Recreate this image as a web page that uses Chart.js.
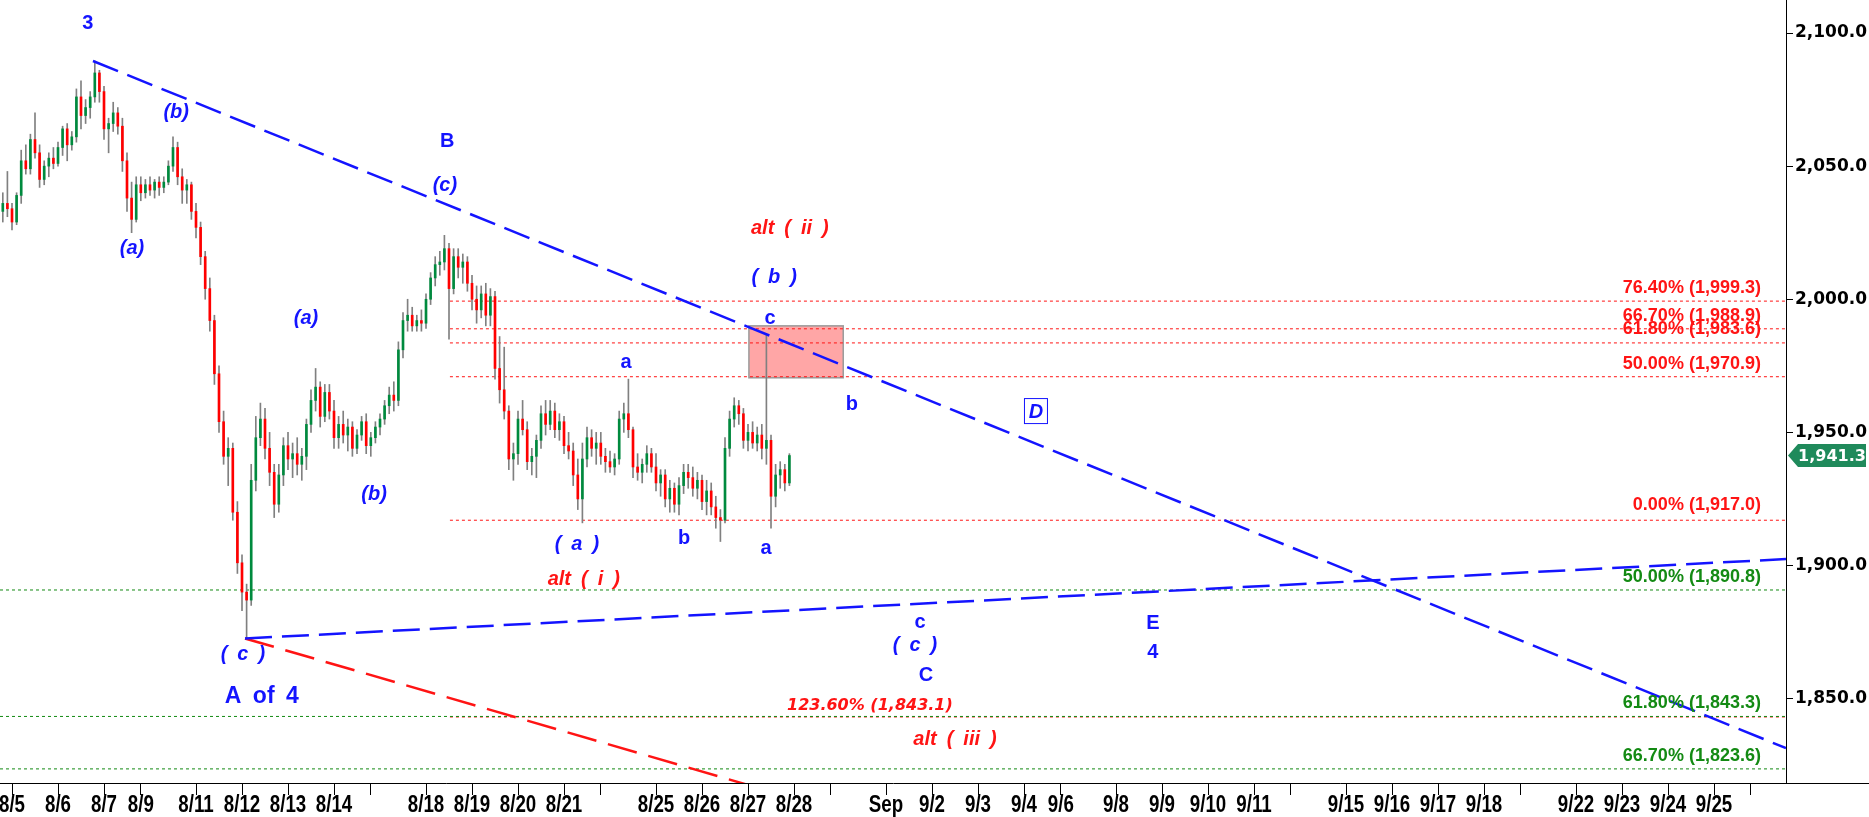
<!DOCTYPE html>
<html>
<head>
<meta charset="utf-8">
<script src="https://cdn.jsdelivr.net/npm/chart.js@4.4.1/dist/chart.umd.min.js"></script>
<style>
  html, body { margin: 0; padding: 0; background: #fff; }
  canvas { display: block; }
</style>
</head>
<body>
<canvas id="waveChart" width="1869" height="817"></canvas>
<script>
// bar slots: 10 slots per trading day, slot 0 = start of the 8/5 session
var firstSlot = -2;

var opens = [
    2033, 2036, 2034, 2029, 2039, 2052, 2049, 2060, 2055, 2045, 2050, 2053, 2051, 2057, 2064, 2058,
    2061, 2076, 2069, 2072, 2076, 2085, 2078, 2064, 2066, 2070, 2065, 2052, 2038, 2030, 2043, 2040,
    2043, 2041, 2044, 2042, 2044, 2050, 2057, 2046, 2041, 2043, 2033, 2027, 2016, 2004, 1992, 1972,
    1954, 1941, 1944, 1920, 1901, 1890, 1887, 1932, 1948, 1955, 1944, 1935, 1923, 1934, 1945, 1940,
    1942, 1938, 1941, 1953, 1962, 1967, 1956, 1965, 1958, 1948, 1953, 1949, 1952, 1944, 1949, 1954,
    1945, 1948, 1952, 1955, 1960, 1964, 1962, 1981, 1992, 1994, 1990, 1992, 1991, 2000, 2008, 2013,
    2014, 2019, 2004, 2016, 2012, 2014, 2006, 2000, 1996, 2002, 1994, 2001, 1974, 1966, 1958, 1940,
    1942, 1955, 1951, 1939, 1941, 1947, 1957, 1953, 1958, 1951, 1954, 1945, 1943, 1934, 1925, 1940,
    1948, 1944, 1946, 1941, 1939, 1937, 1940, 1955, 1957, 1951, 1937, 1935, 1938, 1942, 1937, 1931,
    1934, 1925, 1929, 1923, 1930, 1935, 1933, 1929, 1932, 1924, 1928, 1922, 1918, 1917, 1944, 1955,
    1960, 1957, 1947, 1950, 1946, 1949, 1944, 1947, 1926, 1934, 1936, 1931
];
var highs = [
    2040, 2048, 2036, 2040, 2056, 2058, 2062, 2070, 2058, 2052, 2055, 2057, 2059, 2065, 2066, 2063,
    2079, 2082, 2075, 2078, 2089.5, 2086, 2080, 2068, 2074, 2072, 2068, 2055, 2044, 2046, 2046, 2045,
    2046, 2045, 2046, 2046, 2052, 2061, 2059, 2049, 2045, 2044, 2036, 2029, 2018, 2008, 1994, 1975,
    1958, 1948, 1946, 1924, 1904, 1893, 1938, 1956, 1961, 1959, 1950, 1938, 1938, 1948, 1950, 1946,
    1948, 1944, 1955, 1966, 1974, 1969, 1968, 1968, 1962, 1956, 1958, 1955, 1954, 1951, 1956, 1957,
    1950, 1954, 1957, 1962, 1967, 1969, 1984, 1995, 2000, 1997, 1994, 1996, 2002, 2010, 2016, 2018,
    2024, 2021, 2019, 2019, 2017, 2016, 2009, 2005, 2005, 2006, 2004, 2003, 1986, 1982, 1960, 1946,
    1958, 1962, 1954, 1944, 1949, 1960, 1962, 1962, 1961, 1957, 1956, 1950, 1946, 1940, 1946, 1952,
    1951, 1950, 1950, 1944, 1943, 1942, 1958, 1961, 1970, 1952, 1942, 1940, 1945, 1944, 1942, 1936,
    1936, 1932, 1931, 1933, 1938, 1938, 1937, 1935, 1934, 1932, 1931, 1926, 1921, 1948, 1958, 1963,
    1962, 1959, 1953, 1954, 1952, 1953, 1986.5, 1949, 1938, 1939, 1938, 1942
];
var lows = [
    2029, 2031, 2026, 2028, 2036, 2047, 2047, 2053, 2042, 2043, 2046, 2049, 2050, 2054, 2052, 2056,
    2059, 2064, 2066, 2068, 2074, 2074, 2060, 2055, 2063, 2062, 2048, 2033, 2025, 2029, 2037, 2038,
    2039, 2038, 2039, 2040, 2043, 2048, 2043, 2036, 2036, 2030, 2023, 2013, 2000, 1988, 1968, 1950,
    1938, 1930, 1917, 1897, 1883, 1872.6, 1885, 1928, 1945, 1940, 1930, 1918, 1920, 1930, 1936, 1933,
    1934, 1932, 1936, 1950, 1958, 1952, 1954, 1955, 1944, 1944, 1946, 1943, 1941, 1942, 1947, 1942,
    1941, 1946, 1949, 1953, 1957, 1958, 1960, 1978, 1988, 1988, 1988, 1988, 1989, 1998, 2005, 2009,
    2011, 1985, 2002, 2008, 2006, 2003, 1996, 1991, 1993, 1990, 1990, 1970, 1961, 1955, 1936, 1932,
    1938, 1949, 1936, 1934, 1933, 1944, 1949, 1951, 1948, 1947, 1942, 1940, 1930, 1921, 1916, 1937,
    1941, 1938, 1938, 1935, 1935, 1934, 1938, 1950, 1948, 1933, 1932, 1931, 1935, 1935, 1928, 1926,
    1922, 1920, 1920, 1919, 1927, 1929, 1926, 1925, 1921, 1919, 1919, 1914, 1909, 1916, 1941, 1952,
    1953, 1944, 1943, 1944, 1943, 1940, 1938, 1914, 1922, 1929, 1928, 1930
];
var closes = [
    2036, 2034, 2029, 2039, 2052, 2049, 2060, 2055, 2045, 2050, 2053, 2051, 2057, 2064, 2058, 2061,
    2076, 2069, 2072, 2076, 2085, 2078, 2064, 2066, 2070, 2065, 2052, 2038, 2030, 2043, 2040, 2043,
    2041, 2044, 2042, 2044, 2050, 2057, 2046, 2041, 2043, 2033, 2027, 2016, 2004, 1992, 1972, 1954,
    1941, 1944, 1920, 1901, 1890, 1887, 1932, 1948, 1955, 1944, 1935, 1923, 1934, 1945, 1940, 1942,
    1938, 1941, 1953, 1962, 1967, 1956, 1965, 1958, 1948, 1953, 1949, 1952, 1944, 1949, 1954, 1945,
    1948, 1952, 1955, 1960, 1964, 1962, 1981, 1992, 1994, 1990, 1992, 1991, 2000, 2008, 2013, 2014,
    2019, 2004, 2016, 2012, 2014, 2006, 2000, 1996, 2002, 1994, 2001, 1974, 1966, 1958, 1940, 1942,
    1955, 1951, 1939, 1941, 1947, 1957, 1953, 1958, 1951, 1954, 1945, 1943, 1934, 1925, 1940, 1948,
    1944, 1946, 1941, 1939, 1937, 1940, 1955, 1957, 1951, 1937, 1935, 1938, 1942, 1937, 1931, 1934,
    1925, 1929, 1923, 1930, 1935, 1933, 1929, 1932, 1924, 1928, 1922, 1918, 1917, 1944, 1955, 1960,
    1957, 1947, 1950, 1946, 1949, 1944, 1947, 1926, 1934, 1936, 1931, 1941.3
];

var tickSlots = [0, 10, 20, 28, 40, 50, 60, 70, 78, 90, 100, 110, 120, 128, 140, 150, 160, 170, 178,
    190, 200, 210, 220, 228, 240, 250, 260, 270, 278, 290, 300, 310, 320, 328, 340, 350, 360, 370, 378];
var tickLabels = ['8/5', '8/6', '8/7', '8/9', '8/11', '8/12', '8/13', '8/14', '', '8/18', '8/19', '8/20', '8/21', '',
    '8/25', '8/26', '8/27', '8/28', '', 'Sep', '9/2', '9/3', '9/4', '9/6', '9/8', '9/9', '9/10', '9/11', '',
    '9/15', '9/16', '9/17', '9/18', '', '9/22', '9/23', '9/24', '9/25', ''];
var priceTicks = [1850, 1900, 1950, 2000, 2050, 2100];

// retracement levels
var redLevels = [1999.3, 1988.9, 1983.6, 1970.9, 1917.0];
var redLevelText = ['76.40% (1,999.3)', '66.70% (1,988.9)', '61.80% (1,983.6)', '50.00% (1,970.9)', '0.00% (1,917.0)'];
var greenLevels = [1890.8, 1843.3, 1823.6];
var greenLevelText = ['50.00% (1,890.8)', '61.80% (1,843.3)', '66.70% (1,823.6)'];
var extLevel = 1843.1;

// trendlines (slot, price)
var upperLine = [{ x: 17.6, y: 2089.5 }, { x: 385.65, y: 1831.4 }];
var lowerLine = [{ x: 50.65, y: 1872.6 }, { x: 385.65, y: 1902.4 }];
var altLine = [{ x: 50.65, y: 1872.6 }, { x: 180, y: 1807.5 }];
var targetZone = { x1: 160.2, x2: 180.7, top: 1990, bottom: 1970.5 };

var xMin = -2.609, xMax = 385.65;
var yMin = 1818.3, yMax = 2112.4;

var blue = '#1414ff', red = '#ff1414', green = '#138a13';
var upColor = '#008a3e', downColor = '#ff0000', wickColor = '#808080';

var sp = '\u2002';
// wave labels: text, slot, price, colour, style
var waveMarks = [
    ['3', 16.5, 2103.4, blue, 'b'],
    ['(b)', 35.7, 2070.0, blue, 'bi'],
    ['(a)', 26.1, 2018.9, blue, 'bi'],
    ['B', 94.6, 2059.1, blue, 'b'],
    ['(c)', 94.1, 2042.9, blue, 'bi'],
    ['(a)', 63.9, 1992.9, blue, 'bi'],
    ['(b)', 78.7, 1926.8, blue, 'bi'],
    ['alt' + sp + '(' + sp + 'ii' + sp + ')', 169.1, 2026.4, red, 'bi'],
    ['(' + sp + 'b' + sp + ')', 165.7, 2008.3, blue, 'bi'],
    ['c', 164.8, 1992.6, blue, 'b'],
    ['a', 133.5, 1976.4, blue, 'b'],
    ['b', 182.6, 1960.3, blue, 'b'],
    ['(' + sp + 'a' + sp + ')', 122.8, 1908.0, blue, 'bi'],
    ['b', 146.1, 1910.3, blue, 'b'],
    ['a', 163.9, 1906.5, blue, 'b'],
    ['alt' + sp + '(' + sp + 'i' + sp + ')', 124.3, 1894.9, red, 'bi'],
    ['c', 197.4, 1878.7, blue, 'b'],
    ['(' + sp + 'c' + sp + ')', 196.3, 1870.1, blue, 'bi'],
    ['C', 198.7, 1858.8, blue, 'b'],
    ['E', 248.0, 1878.4, blue, 'b'],
    ['4', 248.0, 1867.5, blue, 'b'],
    ['(' + sp + 'c' + sp + ')', 50.2, 1866.7, blue, 'bi'],
    ['A' + sp + 'of' + sp + '4', 54.3, 1850.6, blue, 'big'],
    ['123.60% (1,843.1)', 186.5, 1847.2, red, 'small'],
    ['alt' + sp + '(' + sp + 'iii' + sp + ')', 205.0, 1834.8, red, 'bi']
];
var boxedMark = ['D', 222.6, 1958.0];

var markFonts = {
    b: 'bold 20px "Liberation Sans"',
    big: 'bold 23px "Liberation Sans"',
    bi: 'italic bold 20px "Liberation Sans"',
    small: 'italic bold 16px "DejaVu Sans"'
};

var slots = closes.map(function (c, i) { return firstSlot + i; });
var wickData = slots.map(function (s, i) { return { x: s, y: [lows[i], highs[i]] }; });
var bodyData = slots.map(function (s, i) { return { x: s, y: [opens[i], closes[i]] }; });
var bodyColors = closes.map(function (c, i) { return c >= opens[i] ? upColor : downColor; });

function levelLine(value, fromSlot, color) {
    return {
        type: 'line',
        data: [{ x: fromSlot, y: value }, { x: xMax, y: value }],
        borderColor: color,
        borderWidth: 1,
        borderDash: [3, 3],
        pointRadius: 0,
        order: 3
    };
}

function trendLine(points, color, dash) {
    return {
        type: 'line',
        data: points,
        borderColor: color,
        borderWidth: 2.5,
        borderDash: dash,
        pointRadius: 0,
        order: 0
    };
}

var datasets = [
    trendLine(upperLine, blue, [27, 10]),
    trendLine(lowerLine, blue, [27, 10]),
    trendLine(altLine, red, [30, 12]),
    { type: 'bar', data: bodyData, backgroundColor: bodyColors, barThickness: 2, grouped: false, order: 1 },
    { type: 'bar', data: wickData, backgroundColor: wickColor, barThickness: 1, grouped: false, order: 2 }
];
redLevels.forEach(function (v) { datasets.push(levelLine(v, 95.2, red)); });
greenLevels.forEach(function (v) { datasets.push(levelLine(v, xMin, green)); });
datasets.push(levelLine(extLevel, 95.2, red));

var overlay = {
    id: 'overlay',
    beforeDatasetsDraw: function (chart) {
        var ctx = chart.ctx, xs = chart.scales.x, ys = chart.scales.y;
        var l = xs.getPixelForValue(targetZone.x1), r = xs.getPixelForValue(targetZone.x2);
        var t = ys.getPixelForValue(targetZone.top), b = ys.getPixelForValue(targetZone.bottom);
        ctx.save();
        ctx.fillStyle = '#ffa6a6';
        ctx.fillRect(l, t, r - l, b - t);
        ctx.strokeStyle = '#9a9a9a';
        ctx.lineWidth = 1.5;
        ctx.strokeRect(l, t, r - l, b - t);
        ctx.restore();
    },
    afterDraw: function (chart) {
        var ctx = chart.ctx, xs = chart.scales.x, ys = chart.scales.y, area = chart.chartArea;
        ctx.save();

        // bottom axis continues under the price scale
        ctx.strokeStyle = '#000';
        ctx.lineWidth = 1;
        ctx.beginPath();
        ctx.moveTo(area.right, area.bottom + 0.5);
        ctx.lineTo(chart.width, area.bottom + 0.5);
        ctx.stroke();

        // date labels (narrow bold)
        ctx.fillStyle = '#000';
        ctx.font = 'bold 24px "Liberation Sans"';
        ctx.textAlign = 'center';
        ctx.textBaseline = 'middle';
        tickSlots.forEach(function (s, i) {
            if (!tickLabels[i]) return;
            ctx.save();
            ctx.translate(xs.getPixelForValue(s), area.bottom + 22);
            ctx.scale(0.78, 1);
            ctx.fillText(tickLabels[i], 0, 0);
            ctx.restore();
        });

        // level captions
        ctx.font = 'bold 18px "Liberation Sans"';
        ctx.textAlign = 'right';
        var capX = xs.getPixelForValue(380.2);
        redLevels.forEach(function (v, i) {
            ctx.fillStyle = red;
            var off = [5, 4.8, 5.2, 4.8, 5.7][i];
            ctx.fillText(redLevelText[i], capX, ys.getPixelForValue(v + off));
        });
        greenLevels.forEach(function (v, i) {
            ctx.fillStyle = green;
            ctx.fillText(greenLevelText[i], capX, ys.getPixelForValue(v + 5));
        });

        // wave labels
        ctx.textAlign = 'center';
        waveMarks.forEach(function (m) {
            ctx.font = markFonts[m[4]];
            ctx.fillStyle = m[3];
            ctx.fillText(m[0], xs.getPixelForValue(m[1]), ys.getPixelForValue(m[2]));
        });

        // boxed D
        var dx = xs.getPixelForValue(boxedMark[1]), dy = ys.getPixelForValue(boxedMark[2]);
        ctx.fillStyle = '#fff';
        ctx.fillRect(dx - 12, dy - 13, 24, 26);
        ctx.strokeStyle = blue;
        ctx.lineWidth = 1;
        ctx.strokeRect(dx - 11.5, dy - 12.5, 23, 25);
        ctx.fillStyle = blue;
        ctx.font = markFonts.bi;
        ctx.fillText(boxedMark[0], dx, dy + 1);

        // last price tag
        var last = closes[closes.length - 1];
        var ty = ys.getPixelForValue(last);
        var tx = area.right + 2;
        ctx.fillStyle = '#1f8a5b';
        ctx.beginPath();
        ctx.moveTo(tx, ty);
        ctx.lineTo(tx + 10, ty - 11.5);
        ctx.lineTo(chart.width - 3, ty - 11.5);
        ctx.lineTo(chart.width - 3, ty + 11.5);
        ctx.lineTo(tx + 10, ty + 11.5);
        ctx.closePath();
        ctx.fill();
        ctx.fillStyle = '#fff';
        ctx.font = 'bold 16px "DejaVu Sans"';
        ctx.textAlign = 'center';
        ctx.fillText(last.toLocaleString('en-US', { minimumFractionDigits: 1, maximumFractionDigits: 1 }),
            (tx + 10 + chart.width - 3) / 2, ty + 1);

        ctx.restore();
    }
};

var ctx = document.getElementById('waveChart').getContext('2d');
var waveChart = new Chart(ctx, {
    type: 'bar',
    data: { datasets: datasets },
    options: {
        responsive: false,
        animation: false,
        devicePixelRatio: 1,
        layout: { padding: 0 },
        plugins: {
            legend: { display: false },
            tooltip: { enabled: false }
        },
        scales: {
            x: {
                type: 'linear',
                min: xMin,
                max: xMax,
                offset: false,
                grid: { display: true, offset: false, drawOnChartArea: false, drawTicks: true, tickLength: 12, color: '#000' },
                border: { display: true, color: '#000', width: 1 },
                ticks: { display: false },
                afterBuildTicks: function (scale) {
                    scale.ticks = tickSlots.map(function (v) { return { value: v }; });
                },
                afterFit: function (scale) {
                    scale.height = 34;
                    scale.paddingLeft = 0;
                    scale.paddingRight = 0;
                }
            },
            y: {
                type: 'linear',
                position: 'right',
                min: yMin,
                max: yMax,
                grid: { display: true, drawOnChartArea: false, drawTicks: true, tickLength: 7, color: '#000' },
                border: { display: true, color: '#000', width: 1 },
                ticks: {
                    color: '#000',
                    padding: 2,
                    font: { family: 'DejaVu Sans', weight: 'bold', size: 17 },
                    callback: function (v) {
                        return v.toLocaleString('en-US', { minimumFractionDigits: 1, maximumFractionDigits: 1 });
                    }
                },
                afterBuildTicks: function (scale) {
                    scale.ticks = priceTicks.map(function (v) { return { value: v }; });
                },
                afterFit: function (scale) {
                    scale.width = 83;
                    scale.paddingTop = 0;
                    scale.paddingBottom = 0;
                }
            }
        }
    },
    plugins: [overlay]
});
</script>
</body>
</html>
